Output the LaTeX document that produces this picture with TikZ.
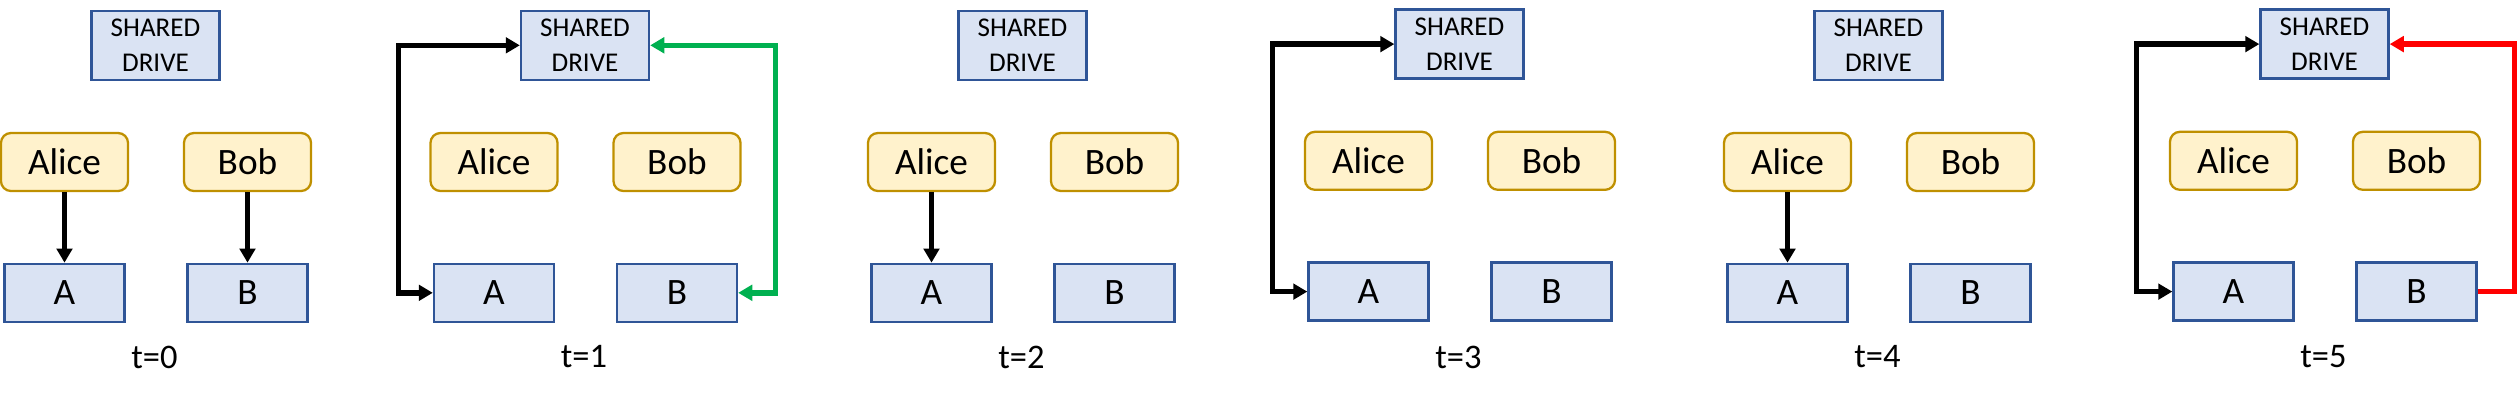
\documentclass[tikz,border=0pt]{standalone}
\usepackage{fontspec}
\setmainfont{Carlito}
\usetikzlibrary{arrows.meta}
\definecolor{boxfill}{HTML}{DAE3F3}
\definecolor{boxdraw}{HTML}{2F5597}
\definecolor{pfill}{HTML}{FFF2CC}
\definecolor{pdraw}{HTML}{BF9000}
\definecolor{ggreen}{HTML}{00B050}
\definecolor{rred}{HTML}{FF0000}
\newcommand\mypanel[4]{%
  \node[drivebox] (sd#1) at (#2,45.3+#3) {SHARED\\DRIVE};
  \node[person] (al#1) at (#2-91,162+#3) {Alice};
  \node[person] (bo#1) at (#2+92,162+#3) {Bob};
  \node[copybox] (a#1) at (#2-91,292.8+#3) {A};
  \node[copybox] (b#1) at (#2+92,292.8+#3) {B};
  \node[tlabel] (t#1) at (#2-1,357) {#4};
}
\begin{document}
\begin{tikzpicture}[x=0.01cm,y=-0.01cm,
  drivebox/.style={draw=boxdraw,fill=boxfill,line width=0.65pt,minimum width=1.28cm,minimum height=0.69cm,inner sep=0pt,align=center,font=\fontsize{7.7}{10}\selectfont},
  person/.style={draw=pdraw,fill=pfill,line width=0.65pt,rounded corners=0.1cm,minimum width=1.27cm,minimum height=0.58cm,inner sep=0pt,font=\fontsize{10.6}{12}\selectfont},
  copybox/.style={draw=boxdraw,fill=boxfill,line width=0.65pt,minimum width=1.2cm,minimum height=0.58cm,inner sep=0pt,font=\fontsize{10.6}{12}\selectfont},
  tlabel/.style={font=\fontsize{9.8}{12}\selectfont,inner sep=0pt},
  tip/.tip={Triangle[length=4pt,width=4.4pt]},
  link/.style={line width=1.55pt,line join=miter,-tip},
  dlink/.style={line width=1.55pt,line join=miter,tip-tip},
]
\useasboundingbox (0,0) rectangle (2518,402);

\mypanel{0}{155.5}{0}{t=0}
\mypanel{1}{585}{0}{t=1}
\mypanel{2}{1022.5}{0}{t=2}
\mypanel{3}{1459.5}{-1.2}{t=3}
\mypanel{4}{1878.5}{0}{t=4}
\mypanel{5}{2324.5}{-1.2}{t=5}

% t=0
\draw[link] (al0.south) -- (a0.north);
\draw[link] (bo0.south) -- (b0.north);

% t=1
\coordinate (l1) at (398.3,0);
\coordinate (r1) at (775.3,0);
\draw[dlink] (sd1.west) -- (sd1.west -| l1) -- (a1.west -| l1) -- (a1.west);
\draw[dlink,color=ggreen] (sd1.east) -- (sd1.east -| r1) -- (b1.east -| r1) -- (b1.east);

% t=2
\draw[link] (al2.south) -- (a2.north);

% t=3
\coordinate (l3) at (1272.3,0);
\draw[dlink] (sd3.west) -- (sd3.west -| l3) -- (a3.west -| l3) -- (a3.west);

% t=4
\draw[link] (al4.south) -- (a4.north);

% t=5
\coordinate (l5) at (2136.7,0);
\coordinate (r5) at (2514.3,0);
\draw[dlink] (sd5.west) -- (sd5.west -| l5) -- (a5.west -| l5) -- (a5.west);
\draw[link,color=rred] (b5.east) -- (b5.east -| r5) -- (sd5.east -| r5) -- (sd5.east);
\end{tikzpicture}
\end{document}
